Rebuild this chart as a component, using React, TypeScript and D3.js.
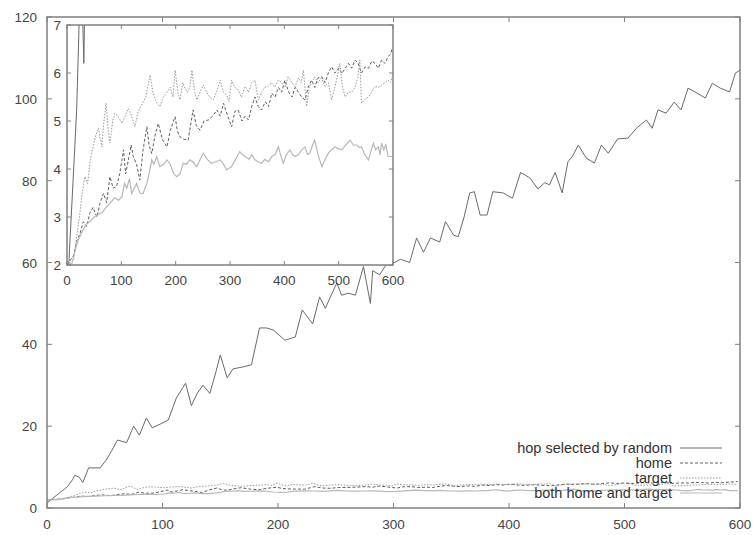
import React from "react";
import * as d3 from "d3";

type Pt = [number, number];

// x = hop count / step, y = path length
const hopRandom: Pt[] = [
  [0, 1.2], [5, 2.4], [10, 3.5], [15, 4.6], [18, 5.3], [22, 6.9], [24, 8], [28, 7.5], [31, 6.2], [36, 9.8],
  [46, 9.8], [52, 12], [56, 14], [61, 16.6], [69, 16], [75, 20], [80, 17.8], [86, 22], [91, 19.6], [98, 20.5],
  [105, 21.5], [112, 26.9], [120, 30.5], [125, 25], [130, 28], [135, 30], [141, 28], [146, 33], [150, 37.4],
  [156, 31.8], [161, 34], [170, 34.5], [177, 35], [184, 44], [190, 44], [196, 43.5], [206, 41], [215, 41.8],
  [221, 48.4], [230, 45], [236, 51.6], [241, 48.8], [246, 52], [251, 55], [255, 52], [261, 52.5], [267, 52],
  [274, 59], [280, 50], [282, 58], [288, 57], [294, 59.6], [297, 59.4], [306, 60.8], [314, 60], [320, 66],
  [326, 62.5], [332, 66], [340, 65], [345, 70], [352, 66.7], [356, 66.3], [361, 71], [366, 77], [370, 77.3],
  [375, 71.6], [381, 71.6], [386, 77.3], [395, 77], [403, 75.7], [410, 82], [418, 80.7], [425, 78], [431, 79.5],
  [435, 79], [440, 82], [446, 77], [451, 84.6], [455, 86], [460, 88.7], [467, 85.5], [474, 84.3], [480, 88.7],
  [486, 86.7], [494, 90.2], [503, 90.4], [511, 93], [519, 94.8], [524, 92.8], [529, 97.3], [536, 96.5],
  [543, 99.2], [549, 97.3], [555, 102.6], [561, 101.7], [570, 100.2], [576, 103.8], [583, 102.6], [591, 101.7],
  [596, 106.3], [600, 107],
];

const home: Pt[] = [
  [0, 2.0], [6, 2.1], [12, 2.2], [18, 2.5], [24, 2.66], [30, 2.9], [36, 2.8], [42, 3.08], [48, 3.2], [55, 3.0],
  [61, 3.3], [67, 3.49], [73, 3.3], [79, 3.84], [85, 3.6], [91, 3.63], [97, 3.9], [104, 4.4], [108, 3.9],
  [113, 4.19], [118, 4.5], [122, 4.26], [128, 4.1], [134, 3.77], [140, 4.4], [147, 4.88], [151, 4.5],
  [156, 4.32], [162, 4.7], [168, 4.95], [176, 4.6], [184, 4.46], [190, 4.8], [199, 5.09], [203, 4.8],
  [208, 4.67], [215, 4.62], [223, 4.6], [232, 5.23], [238, 4.9], [245, 4.81], [252, 5.0], [260, 5.02],
  [268, 5.1], [276, 5.23], [282, 5.1], [288, 5.37], [296, 5.1], [303, 4.88], [309, 5.2], [315, 5.23],
  [322, 5.0], [328, 5.1], [334, 5.02], [340, 5.3], [346, 5.5], [352, 5.3], [358, 5.23], [365, 5.4],
  [371, 5.3], [377, 5.58], [383, 5.5], [389, 5.7], [395, 5.6], [401, 5.85], [408, 5.6], [414, 5.5],
  [420, 5.7], [426, 5.6], [432, 5.5], [438, 5.44], [444, 5.7], [450, 5.85], [456, 5.7], [462, 5.9],
  [469, 5.92], [475, 5.8], [481, 6.0], [487, 6.13], [493, 6.0], [500, 6.1], [506, 5.99], [512, 6.1],
  [518, 6.2], [524, 6.1], [530, 6.27], [536, 6.2], [542, 6.0], [549, 6.13], [555, 6.1], [561, 6.25],
  [567, 6.2], [573, 6.1], [579, 6.27], [585, 6.2], [591, 6.34], [596, 6.4], [598, 6.51],
];

const target: Pt[] = [
  [0, 2.0], [6, 2.05], [12, 2.1], [18, 2.6], [24, 3.1], [28, 3.5], [33, 3.84], [38, 3.7], [43, 4.2],
  [48, 4.46], [53, 4.7], [58, 4.85], [64, 4.46], [68, 5.0], [72, 5.37], [76, 4.8], [79, 4.54], [84, 5.0],
  [88, 5.16], [94, 5.1], [101, 4.95], [107, 5.1], [113, 5.26], [119, 5.1], [125, 4.88], [131, 5.2],
  [137, 5.33], [145, 5.5], [153, 5.96], [158, 5.6], [164, 5.4], [171, 5.3], [177, 5.5], [183, 5.58],
  [190, 5.7], [195, 5.5], [199, 6.06], [204, 5.6], [208, 5.44], [213, 5.8], [217, 5.68], [222, 5.6],
  [226, 5.7], [230, 6.06], [235, 5.6], [239, 5.44], [245, 5.6], [251, 5.75], [257, 5.6], [263, 5.5],
  [269, 5.44], [275, 5.6], [282, 5.85], [288, 5.6], [294, 5.54], [298, 5.4], [303, 5.85], [309, 5.7],
  [315, 5.65], [321, 5.5], [328, 5.72], [334, 5.6], [340, 5.8], [346, 5.85], [352, 5.44], [358, 5.6],
  [364, 5.7], [370, 5.72], [376, 5.8], [382, 5.7], [389, 5.85], [395, 5.8], [401, 5.7], [407, 5.92],
  [414, 5.8], [420, 5.72], [426, 5.9], [431, 5.8], [435, 6.06], [441, 5.3], [446, 5.7], [451, 5.8],
  [456, 5.92], [462, 5.8], [468, 5.9], [475, 5.72], [481, 5.8], [487, 5.44], [493, 5.7], [497, 5.9],
  [502, 6.2], [507, 5.7], [512, 5.5], [518, 5.6], [524, 5.6], [530, 5.7], [535, 5.9], [539, 6.27],
  [542, 5.37], [548, 5.45], [555, 5.5], [561, 5.6], [567, 5.72], [573, 5.7], [579, 5.75], [585, 5.8],
  [591, 5.85], [596, 5.8], [598, 5.92],
];

const both: Pt[] = [
  [0, 2.0], [9, 2.03], [15, 2.3], [20, 2.5], [28, 2.7], [35, 2.85], [42, 2.9], [50, 3.0], [58, 3.05],
  [65, 3.1], [72, 3.2], [80, 3.3], [88, 3.4], [95, 3.35], [101, 3.42], [106, 3.7], [110, 3.6], [115, 3.8],
  [119, 3.49], [124, 3.6], [128, 3.7], [134, 3.5], [140, 3.49], [147, 3.7], [151, 3.9], [156, 4.19],
  [160, 4.1], [165, 4.26], [171, 4.05], [178, 4.1], [184, 4.19], [190, 4.1], [196, 3.91], [202, 3.84],
  [208, 3.9], [214, 4.12], [220, 4.1], [226, 4.19], [232, 4.15], [239, 4.05], [245, 4.2], [251, 4.33],
  [258, 4.2], [266, 4.12], [274, 4.15], [282, 4.19], [288, 4.1], [294, 3.98], [303, 4.05], [310, 4.2],
  [318, 4.36], [323, 4.3], [328, 4.26], [335, 4.2], [340, 4.3], [346, 4.19], [352, 4.15], [358, 4.12],
  [364, 4.2], [371, 4.15], [377, 4.26], [383, 4.3], [389, 4.46], [393, 4.3], [398, 4.12], [404, 4.3],
  [410, 4.4], [415, 4.3], [420, 4.26], [426, 4.3], [432, 4.4], [438, 4.46], [443, 4.3], [447, 4.33],
  [452, 4.5], [456, 4.6], [462, 4.3], [469, 4.05], [475, 4.2], [481, 4.33], [487, 4.4], [493, 4.46],
  [500, 4.42], [506, 4.4], [513, 4.5], [521, 4.6], [527, 4.5], [533, 4.5], [538, 4.45], [542, 4.46],
  [548, 4.3], [555, 4.19], [560, 4.4], [564, 4.54], [568, 4.4], [573, 4.46], [576, 4.3], [579, 4.54],
  [583, 4.4], [587, 4.5], [591, 4.26], [598, 4.26],
];

const mainXTicks = [0, 100, 200, 300, 400, 500, 600];
const mainYTicks = [0, 20, 40, 60, 80, 100, 120];
const insetXTicks = [0, 100, 200, 300, 400, 500, 600];
const insetYTicks = [2, 3, 4, 5, 6, 7];

const seriesNames = ["hop selected by random", "home", "target", "both home and target"];

const styles = [
  { stroke: "#6a6a6a", dash: "none", width: 1 },
  { stroke: "#5e5e5e", dash: "3,2", width: 1 },
  { stroke: "#999999", dash: "1.5,1.5", width: 1 },
  { stroke: "#b8b8b8", dash: "none", width: 1.2 },
];

const FONT = "'Liberation Sans', Arial, sans-serif";
const FRAME = "#808080";

export default function App() {
  const W = 754;
  const H = 535;
  const allSeries = [hopRandom, home, target, both];

  const x = d3.scaleLinear().domain([0, 600]).range([47, 740]);
  const y = d3.scaleLinear().domain([0, 120]).range([508, 17]);
  const ix = d3.scaleLinear().domain([0, 600]).range([67, 393]);
  const iy = d3.scaleLinear().domain([2, 7]).range([265, 25]);

  const mainLine = d3.line<Pt>().x((d) => x(d[0])).y((d) => y(d[1]));
  const insetLine = d3.line<Pt>().x((d) => ix(d[0])).y((d) => iy(d[1]));

  const tick = 5;
  const itick = 4;

  return (
    <svg width={W} height={H} style={{ position: "absolute", left: 0, top: 0, background: "#fff" }}>
      <defs>
        <clipPath id="mainClip">
          <rect x={47} y={17} width={693} height={491} />
        </clipPath>
        <clipPath id="insetClip">
          <rect x={67} y={25} width={326} height={240} />
        </clipPath>
      </defs>

      {/* main plot */}
      <g clipPath="url(#mainClip)">
        {allSeries.map((s, i) => (
          <path
            key={i}
            d={mainLine(s) || ""}
            fill="none"
            stroke={styles[i].stroke}
            strokeWidth={styles[i].width}
            strokeDasharray={styles[i].dash}
          />
        ))}
      </g>
      <rect x={47} y={17} width={693} height={491} fill="none" stroke={FRAME} strokeWidth={1.5} />
      {mainYTicks.map((t) => (
        <g key={"my" + t}>
          <line x1={47} x2={47 + tick} y1={y(t)} y2={y(t)} stroke={FRAME} />
          <line x1={740} x2={740 - tick} y1={y(t)} y2={y(t)} stroke={FRAME} />
          <text x={37} y={y(t) + 5} textAnchor="end" fontFamily={FONT} fontSize={13.5} fill="#444">
            {t}
          </text>
        </g>
      ))}
      {mainXTicks.map((t) => (
        <g key={"mx" + t}>
          <line x1={x(t)} x2={x(t)} y1={508} y2={508 - tick} stroke={FRAME} />
          <line x1={x(t)} x2={x(t)} y1={17} y2={17 + tick} stroke={FRAME} />
          <text x={x(t)} y={529} textAnchor="middle" fontFamily={FONT} fontSize={13.5} fill="#444">
            {t}
          </text>
        </g>
      ))}

      {/* legend */}
      {seriesNames.map((n, i) => {
        const ly = 448 + i * 15;
        return (
          <g key={n}>
            <text x={672} y={ly + 5} textAnchor="end" fontFamily={FONT} fontSize={14.5} fill="#333">
              {n}
            </text>
            <line
              x1={680}
              x2={722}
              y1={ly}
              y2={ly}
              stroke={styles[i].stroke}
              strokeWidth={styles[i].width}
              strokeDasharray={styles[i].dash}
            />
          </g>
        );
      })}

      {/* inset */}
      <rect x={67} y={25} width={326} height={240} fill="#fff" />
      <g clipPath="url(#insetClip)">
        {allSeries.map((s, i) => (
          <path
            key={i}
            d={insetLine(s) || ""}
            fill="none"
            stroke={styles[i].stroke}
            strokeWidth={styles[i].width}
            strokeDasharray={styles[i].dash}
          />
        ))}
      </g>
      <rect x={67} y={25} width={326} height={240} fill="none" stroke={FRAME} strokeWidth={1.5} />
      {insetYTicks.map((t) => (
        <g key={"iy" + t}>
          <line x1={67} x2={67 + itick} y1={iy(t)} y2={iy(t)} stroke={FRAME} />
          <line x1={393} x2={393 - itick} y1={iy(t)} y2={iy(t)} stroke={FRAME} />
          <text x={61} y={iy(t) + 5} textAnchor="end" fontFamily={FONT} fontSize={13.5} fill="#444">
            {t}
          </text>
        </g>
      ))}
      {insetXTicks.map((t) => (
        <g key={"ix" + t}>
          <line x1={ix(t)} x2={ix(t)} y1={265} y2={265 - itick} stroke={FRAME} />
          <line x1={ix(t)} x2={ix(t)} y1={25} y2={25 + itick} stroke={FRAME} />
          <text x={ix(t)} y={285} textAnchor="middle" fontFamily={FONT} fontSize={13.5} fill="#444">
            {t}
          </text>
        </g>
      ))}
    </svg>
  );
}
